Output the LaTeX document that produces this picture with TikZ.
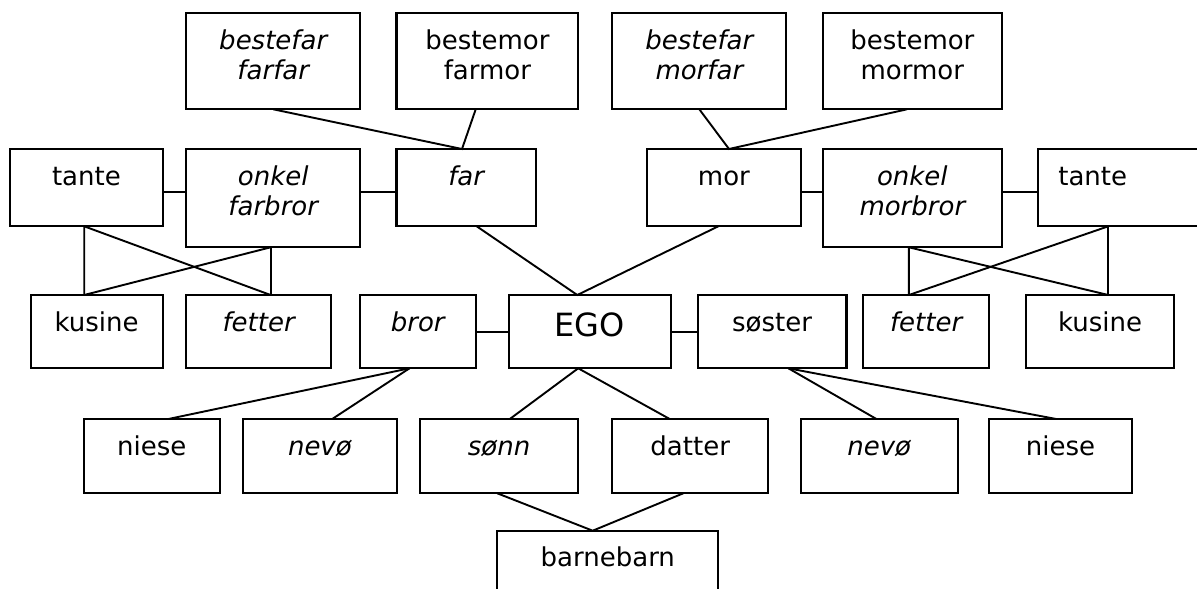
\documentclass[tikz,border=0pt]{standalone}
\usepackage{fontspec}
\setmainfont{DejaVu Sans}
\usetikzlibrary{calc}
\tikzset{
  kbox/.style={draw, line width=2.1pt, inner sep=0pt, outer sep=0pt},
  link/.style={line width=1.9pt}
}
% #1 baseline offset, #2 name, #3 x, #4 y, #5 width, #6 height, #7 text
\newcommand\kbox[7][36]{\node[kbox, anchor=north west] (#2) at (#3,#4)
  {\parbox[c][#6pt][t]{#5pt}{\centering\rule{0pt}{#1pt}#7}};}
\begin{document}
\begin{tikzpicture}[x=1pt, y=-1pt, font=\fontsize{26}{30}\selectfont]
\useasboundingbox (0,0) rectangle (1197,589);
\clip (0,0) rectangle (1197,589);
\fill[white] (0,0) rectangle (1197,589);
% row 1
\kbox{bff}{186.4}{13.3}{173.7}{96}{\itshape bestefar\\farfar}
\kbox{bmf}{396.5}{13.3}{181.8}{96}{bestemor\\farmor}
\kbox{bfm}{612.3}{13.3}{174.1}{96}{\itshape bestefar\\morfar}
\kbox{bmm}{822.8}{13.3}{179.1}{96}{bestemor\\mormor}
% row 2
\kbox{tanteL}{10.3}{149}{152.3}{77.3}{tante}
\kbox{onkelL}{186.4}{149}{173.7}{98.3}{\itshape onkel\\farbror}
\kbox{far}{396.5}{149}{139.3}{77.3}{\itshape far}
\kbox{mor}{646.8}{149}{154.2}{77.3}{mor}
\kbox{onkelR}{822.8}{149}{179.1}{98.3}{\itshape onkel\\morbror}
\kbox{tanteR}{1038.3}{149}{170}{77.3}{\makebox[108.8pt]{tante}\hspace*{61.2pt}}
% row 3
\kbox{kusineL}{30.6}{295}{132}{73.3}{kusine}
\kbox{fetterL}{186.4}{295}{144.6}{73.3}{\itshape fetter}
\kbox{bror}{359.7}{295}{116}{73.3}{\itshape bror}
\kbox[41.7]{EGO}{508.6}{295}{162.4}{73.3}{\fontsize{32}{36}\selectfont EGO}
\kbox{soster}{697.6}{295}{148.9}{73.3}{søster}
\kbox{fetterR}{863}{295}{126.3}{73.3}{\itshape fetter}
\kbox{kusineR}{1026}{295}{148.1}{73.3}{kusine}
% row 4
\kbox{nieseL}{83.8}{419}{135.9}{74.3}{niese}
\kbox{nevoL}{242.6}{419}{154.6}{74.3}{\itshape nevø}
\kbox{sonn}{420.2}{419}{157.7}{74.3}{\itshape sønn}
\kbox{datter}{612.3}{419}{155.8}{74.3}{datter}
\kbox{nevoR}{800.6}{419}{157.3}{74.3}{\itshape nevø}
\kbox{nieseR}{988.9}{419}{143.1}{74.3}{niese}
% row 5
\kbox[35.5]{barnebarn}{497.3}{530.7}{221}{80}{barnebarn}
% connectors
\draw[link] (bff.south) -- ($(far.north west)+(65.5,0)$) -- ($(bmf.south west)+(79.2,0)$);
\draw[link] (bfm.south) -- ($(mor.north west)+(82.2,0)$) -- ($(bmm.south west)+(84.2,0)$);
\draw[link] ($(tanteL.north east)+(0,43.3)$) -- ($(onkelL.north west)+(0,43.3)$);
\draw[link] ($(onkelL.north east)+(0,43.3)$) -- ($(far.north west)+(0,43.3)$);
\draw[link] ($(mor.north east)+(0,43.3)$) -- ($(onkelR.north west)+(0,43.3)$);
\draw[link] ($(onkelR.north east)+(0,43.3)$) -- ($(tanteR.north west)+(0,43.3)$);
% left cousins
\draw[link] ($(tanteL.south west)+(73.9,0)$) -- ($(kusineL.north west)+(53.6,0)$);
\draw[link] ($(tanteL.south west)+(73.9,0)$) -- ($(fetterL.north west)+(84.2,0)$);
\draw[link] ($(onkelL.south west)+(84.2,0)$) -- ($(fetterL.north west)+(84.2,0)$);
\draw[link] ($(onkelL.south west)+(84.2,0)$) -- ($(kusineL.north west)+(53.6,0)$);
% right cousins
\draw[link] ($(onkelR.south west)+(86.1,0)$) -- ($(fetterR.north west)+(45.9,0)$);
\draw[link] ($(onkelR.south west)+(86.1,0)$) -- ($(kusineR.north west)+(82.3,0)$);
\draw[link] ($(tanteR.south west)+(70,0)$) -- ($(kusineR.north west)+(82.3,0)$);
\draw[link] ($(tanteR.south west)+(70,0)$) -- ($(fetterR.north west)+(45.9,0)$);
% parents to EGO
\draw[link] ($(far.south west)+(80.2,0)$) -- ($(EGO.north west)+(68.7,0)$) -- ($(mor.south west)+(71.5,0)$);
\draw[link] (bror.east) -- (EGO.west);
\draw[link] (EGO.east) -- (soster.west);
% children
\draw[link] ($(bror.south west)+(49.8,0)$) -- ($(nieseL.north west)+(84.6,0)$);
\draw[link] ($(bror.south west)+(49.8,0)$) -- ($(nevoL.north west)+(89.6,0)$);
\draw[link] ($(EGO.south west)+(69.6,0)$) -- ($(sonn.north west)+(89.6,0)$);
\draw[link] ($(EGO.south west)+(69.6,0)$) -- ($(datter.north west)+(57.4,0)$);
\draw[link] ($(soster.south west)+(90.8,0)$) -- ($(nevoR.north west)+(75.8,0)$);
\draw[link] ($(soster.south west)+(90.8,0)$) -- ($(nieseR.north west)+(67.3,0)$);
\draw[link] ($(sonn.south west)+(77.1,0)$) -- ($(barnebarn.north west)+(95.4,0)$) -- ($(datter.south west)+(71,0)$);
\end{tikzpicture}
\end{document}
